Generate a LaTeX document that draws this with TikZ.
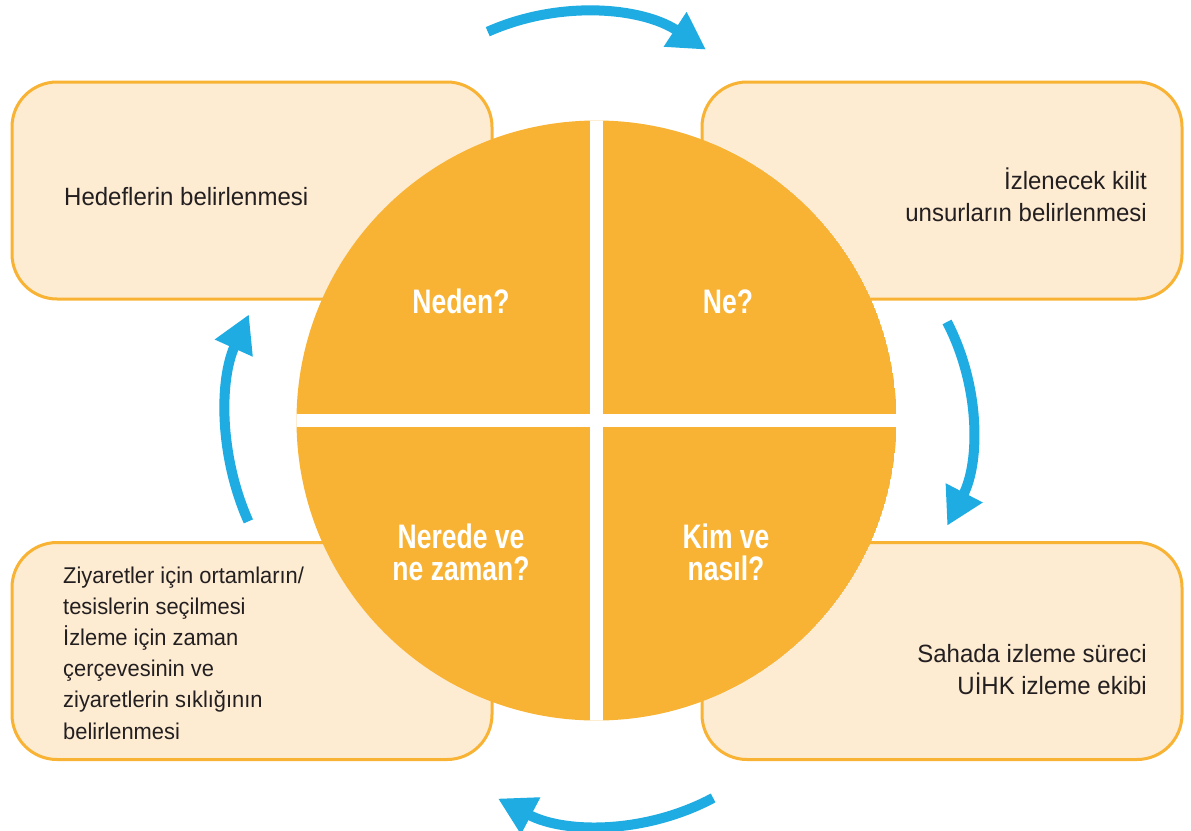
\documentclass[tikz,border=0pt]{standalone}
\usepackage{fontspec}
\setmainfont{Liberation Sans}
\newfontfamily\bodyfont[FakeStretch=0.96]{Liberation Sans}
\newfontfamily\labfont[FakeStretch=0.78]{Liberation Sans}
\usetikzlibrary{arrows.meta}
\definecolor{orng}{HTML}{F8B334}
\definecolor{peach}{HTML}{FDEBD2}
\definecolor{sky}{HTML}{1EACE2}
\definecolor{txt}{HTML}{231F20}
\begin{document}
\begin{tikzpicture}[x=1pt,y=-1pt,
  box/.style={draw=orng,fill=peach,line width=3pt,rounded corners=45pt,minimum width=480pt,minimum height=217pt,inner sep=0pt},
  body/.style={font=\bodyfont\fontsize{25}{31.5}\selectfont,text=txt,inner sep=0pt},
  smallbody/.style={font=\bodyfont\fontsize{22.8}{31.2}\selectfont,text=txt,inner sep=0pt},
  lab/.style={font=\labfont\bfseries\fontsize{34}{32}\selectfont,text=white,inner sep=0pt,align=center},
  cyc/.style={draw=sky,line width=10pt,-{Triangle[length=37pt,width=39pt]}}]
\useasboundingbox (0,0) rectangle (1191,830);
% boxes
\node[box] (btl) at (252,190.5) {};
\node[box] (btr) at (942,190.5) {};
\node[box] (bbl) at (252,651) {};
\node[box] (bbr) at (942,651) {};
% circle
\coordinate (c) at (596.5,420.5);
\begin{scope}
  \clip (c) circle[radius=300];
  \fill[orng] (c) circle[radius=300];
  \fill[white] (589.75,110) rectangle (603.25,731);
  \fill[white] (286,413.75) rectangle (907,427.25);
\end{scope}
% arrows
\coordinate (ct) at (580.5,240);
\coordinate (cr) at (751,424);
\coordinate (cb) at (605,595.5);
\coordinate (cl) at (479.5,418.5);
\draw[cyc] (ct) ++(246:228) arc[start angle=246,end angle=303.4,radius=228];
\draw[cyc] (cr) ++(-27.5:221) arc[start angle=-27.5,end angle=27.4,radius=221];
\draw[cyc] (cb) ++(61.9:229.5) arc[start angle=61.9,end angle=117.8,radius=229.5];
\draw[cyc] (cl) ++(156:253) arc[start angle=156,end angle=204.3,radius=253];
% texts (base anchor = baseline of the last line)
\node[body,anchor=base west] (t1) at (64,205) {Hedeflerin belirlenmesi};
\node[body,align=right,anchor=base east] (t2) at (1147,221) {İzlenecek kilit\\unsurların belirlenmesi};
\node[smallbody,align=left,anchor=base west] (t3) at (63,739) {Ziyaretler için ortamların/\\tesislerin seçilmesi\\İzleme için zaman\\çerçevesinin ve\\ziyaretlerin sıklığının\\belirlenmesi};
\node[body,align=right,anchor=base east] (t4) at (1147,694) {Sahada izleme süreci\\UİHK izleme ekibi};
% labels
\node[lab,anchor=base] (l1) at (461,313) {Neden?};
\node[lab,anchor=base] (l2) at (728,313) {Ne?};
\node[lab,anchor=base] (l3) at (461,580) {Nerede ve\\ne zaman?};
\node[lab,anchor=base] (l4) at (726,580) {Kim ve\\nasıl?};
\end{tikzpicture}
\end{document}
